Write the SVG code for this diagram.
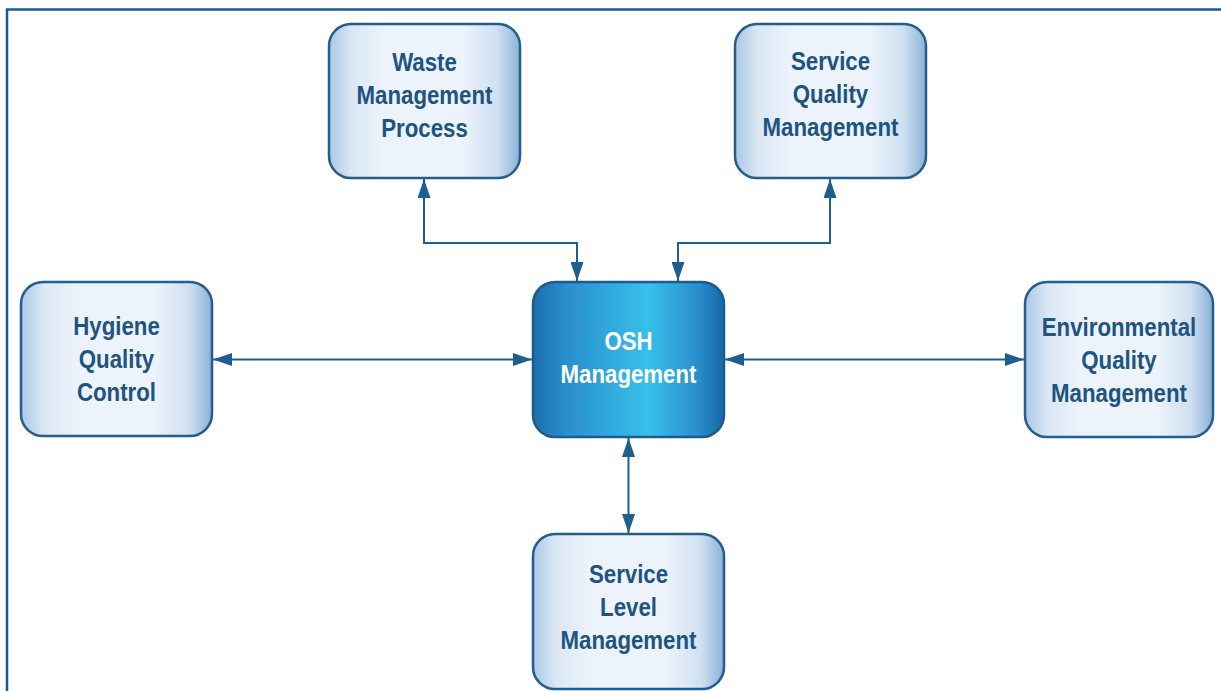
<svg xmlns="http://www.w3.org/2000/svg" width="1221" height="691" viewBox="0 0 1221 691">
<style>
.box{fill:url(#lg);stroke:#235e8c;stroke-width:2.5}
.osh{fill:url(#og);stroke:#1d5b8c;stroke-width:2.5}
.t{font-family:"Liberation Sans",Arial,sans-serif;font-weight:bold;font-size:25px;text-anchor:middle;fill:#205480}
.tw{fill:#ffffff}
.c{fill:none;stroke:#1d5f8f;stroke-width:2;marker-start:url(#ah);marker-end:url(#ah)}
</style>
<defs>
<linearGradient id="lg" x1="0" y1="0" x2="1" y2="0">
<stop offset="0" stop-color="#aac7e5"/>
<stop offset="0.12" stop-color="#dae7f5"/>
<stop offset="0.3" stop-color="#edf3fb"/>
<stop offset="0.7" stop-color="#edf3fb"/>
<stop offset="0.88" stop-color="#cfe0f1"/>
<stop offset="1" stop-color="#8ab1d8"/>
</linearGradient>
<linearGradient id="og" x1="0" y1="0" x2="1" y2="0">
<stop offset="0" stop-color="#1a6fae"/>
<stop offset="0.18" stop-color="#2a8fcd"/>
<stop offset="0.6" stop-color="#37c0ea"/>
<stop offset="0.85" stop-color="#2a92cf"/>
<stop offset="1" stop-color="#1768a8"/>
</linearGradient>
<marker id="ah" markerUnits="userSpaceOnUse" markerWidth="20" markerHeight="13" refX="19" refY="6.5" orient="auto-start-reverse">
<path d="M0,0 L19,6.5 L0,13 z" fill="#1d5f8f"/>
</marker>
</defs>
<rect width="1221" height="691" fill="#ffffff"/>
<g id="frame" fill="none" stroke="#1b5a8a" stroke-width="2.5">
<path d="M7,691 L7,9.5 L1221,9.5"/>
</g>
<g id="connectors">
<path class="c" d="M424,179 L424,243 L577,243 L577,281"/>
<path class="c" d="M830,179 L830,243 L678,243 L678,281"/>
<path class="c" d="M213,359.5 L532,359.5"/>
<path class="c" d="M725,359.5 L1024,359.5"/>
<path class="c" d="M628.5,438 L628.5,533" stroke-width="3"/>
</g>
<g id="waste">
<rect class="box" x="329" y="24" width="191" height="154" rx="22"/>
<g transform="translate(424.5,0) scale(0.89,1)"><text class="t"><tspan x="0" y="71">Waste</tspan><tspan x="0" y="104">Management</tspan><tspan x="0" y="137">Process</tspan></text></g>
</g>
<g id="sqm">
<rect class="box" x="735" y="24" width="191" height="154" rx="22"/>
<g transform="translate(830.5,0) scale(0.89,1)"><text class="t"><tspan x="0" y="70">Service</tspan><tspan x="0" y="103">Quality</tspan><tspan x="0" y="136">Management</tspan></text></g>
</g>
<g id="hygiene">
<rect class="box" x="21" y="282" width="191" height="154" rx="22"/>
<g transform="translate(116.5,0) scale(0.89,1)"><text class="t"><tspan x="0" y="335">Hygiene</tspan><tspan x="0" y="368">Quality</tspan><tspan x="0" y="401">Control</tspan></text></g>
</g>
<g id="osh">
<rect class="osh" x="533" y="282" width="191" height="155" rx="22"/>
<g transform="translate(628.5,0) scale(0.89,1)"><text class="t tw"><tspan x="0" y="350">OSH</tspan><tspan x="0" y="383">Management</tspan></text></g>
</g>
<g id="env">
<rect class="box" x="1025" y="282" width="188" height="155" rx="22"/>
<g transform="translate(1119,0) scale(0.89,1)"><text class="t"><tspan x="0" y="336">Environmental</tspan><tspan x="0" y="369">Quality</tspan><tspan x="0" y="402">Management</tspan></text></g>
</g>
<g id="slm">
<rect class="box" x="533" y="534" width="191" height="155" rx="22"/>
<g transform="translate(628.5,0) scale(0.89,1)"><text class="t"><tspan x="0" y="583">Service</tspan><tspan x="0" y="616">Level</tspan><tspan x="0" y="649">Management</tspan></text></g>
</g>
</svg>
